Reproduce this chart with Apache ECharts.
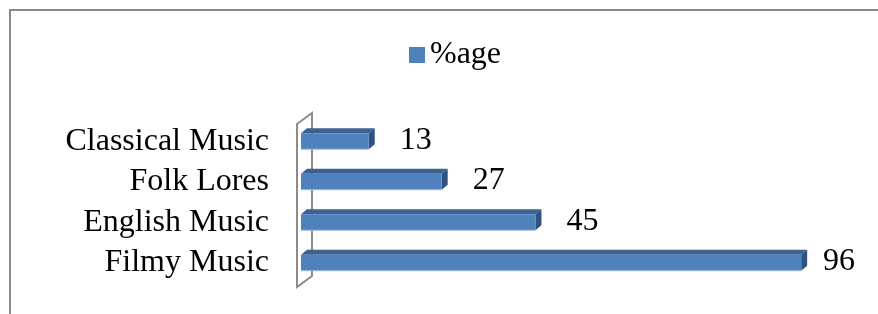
<!DOCTYPE html>
<html>
<head>
<meta charset="utf-8">
<script src="https://cdn.jsdelivr.net/npm/echarts@6/dist/echarts.min.js"></script>
<style>
  html, body { margin: 0; padding: 0; background: #fff; }
  #chart { width: 878px; height: 314px; }
</style>
</head>
<body>
<div id="chart"></div>
<script>
// data, bottom to top as in the source chart
const categories = ['Filmy Music', 'English Music', 'Folk Lores', 'Classical Music']
const values = [96, 45, 27, 13]
const seriesName = '%age'

const FONT = 'Liberation Serif'
const FRONT = '#4F81BD'
const TOP_FACE = '#3B6291'
const SIDE_FACE = '#2F5380'
const EDGE = '#A7BEDC'
const WALL = '#8C8C8C'

const barHeight = 16
const depthX = 6
const depthY = -5

function renderBar(params, api) {
    const catIdx = api.value(1)
    const start = api.coord([0, catIdx])
    const end = api.coord([api.value(0), catIdx])
    const cs = params.coordSys
    const x0 = start[0]
    const xe = end[0]
    const yTop = end[1] - barHeight / 2
    const yBot = end[1] + barHeight / 2

    // label sits to the right, but never past the plot edge
    const labelX = Math.min(xe + 31, cs.x + cs.width + 1)

    return {
        type: 'group',
        children: [
            {
                type: 'polygon',
                shape: { points: [[x0, yTop], [x0 + depthX, yTop + depthY], [xe + depthX, yTop + depthY], [xe, yTop]] },
                style: { fill: TOP_FACE }
            },
            {
                type: 'polygon',
                shape: { points: [[xe, yTop], [xe + depthX, yTop + depthY], [xe + depthX, yBot + depthY], [xe, yBot]] },
                style: { fill: SIDE_FACE }
            },
            {
                type: 'rect',
                shape: { x: x0, y: yTop, width: xe - x0, height: barHeight },
                style: { fill: FRONT }
            },
            {
                type: 'line',
                shape: { x1: x0, y1: yBot, x2: xe, y2: yBot },
                style: { stroke: EDGE, lineWidth: 1 }
            },
            {
                type: 'text',
                style: {
                    x: labelX,
                    y: end[1] - 1,
                    text: String(api.value(0)),
                    fill: '#000',
                    font: '32px "' + FONT + '"',
                    verticalAlign: 'middle',
                    align: 'left'
                }
            }
        ]
    }
}

// the thin 3D "wall" behind the category axis
function renderWall(params, api) {
    const cs = params.coordSys
    const lx = cs.x - 4
    const top = cs.y + 3
    const bot = cs.y + cs.height + 4
    const dx = 15
    const dy = -11
    return {
        type: 'polygon',
        shape: { points: [[lx, top], [lx + dx, top + dy], [lx + dx, bot + dy], [lx, bot]] },
        style: { fill: 'none', stroke: WALL, lineWidth: 2 }
    }
}

const chart = echarts.init(document.getElementById('chart'), null, { renderer: 'canvas' })

chart.setOption({
    animation: false,
    graphic: [
        {
            type: 'rect',
            shape: { x: 10, y: 10, width: 2000, height: 2000 },
            style: { fill: 'none', stroke: '#898989', lineWidth: 2 },
            silent: true
        }
    ],
    legend: {
        data: [seriesName],
        left: 404,
        top: 34,
        icon: 'rect',
        itemWidth: 16,
        itemHeight: 16,
        textStyle: { fontFamily: FONT, fontSize: 32, color: '#000' }
    },
    grid: { left: 301, right: 56, top: 121, bottom: 31 },
    xAxis: {
        type: 'value',
        min: 0,
        max: 100,
        show: false
    },
    yAxis: {
        type: 'category',
        data: categories,
        axisLine: { show: false },
        axisTick: { show: false },
        splitLine: { show: false },
        axisLabel: { interval: 0, fontFamily: FONT, fontSize: 32, color: '#000', margin: 32, padding: [6, 0, 0, 0] }
    },
    series: [
        {
            type: 'custom',
            name: 'wall',
            renderItem: renderWall,
            data: [[0, 0]],
            z: 1,
            silent: true
        },
        {
            type: 'custom',
            name: seriesName,
            renderItem: renderBar,
            itemStyle: { color: FRONT },
            encode: { x: 0, y: 1 },
            data: values.map((v, i) => [v, i]),
            z: 2
        }
    ]
})
</script>
</body>
</html>
